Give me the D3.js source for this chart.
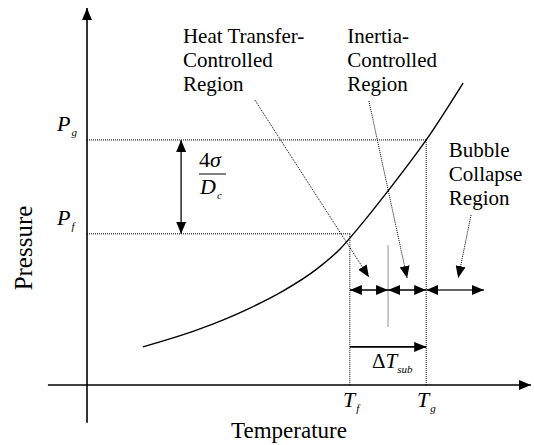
<!DOCTYPE html>
<html>
<head>
<meta charset="utf-8">
<script src="https://cdn.jsdelivr.net/npm/d3@7"></script>
<style>
  body { margin: 0; background: #fff; }
  svg text { font-family: "Liberation Serif", "Times New Roman", serif; }
</style>
</head>
<body>
<svg id="chart" width="534" height="445"></svg>
<script>
// saturation curve (temperature, pressure) in arbitrary units
var curveT = [12.6, 24.8, 36.7, 44.1, 51.8, 57.0, 61.5, 67.8, 76.4, 84.7];
var curveP = [10.1, 14.6, 20.4, 24.9, 30.8, 36.1, 42.2, 51.5, 65.0, 80.1];

// key states
var Tf = 59.2, Tg = 76.4, Tmid = 67.8, Tend = 89.4;
var Pf = 40.1, Pg = 65.0;
var Tdelta = 21.2;       // temperature where the 4sigma/Dc arrow sits
var Prow = 25.2;         // pressure level of the region arrows
var Psub = 10.1;         // pressure level of the delta T sub arrow
var midLine = [37.1, 15.4];

// region labels and their leaders [t0, p0, t1, p1]
var regionNames = ["Heat Transfer-|Controlled|Region", "Inertia-|Controlled|Region", "Bubble|Collapse|Region"];
var regionLabelPos = [[21.6, 90.7], [58.6, 90.7], [81.5, 60.5]];
var regionLeaders = [[37.8, 75.6, 63.5, 28.6], [63.5, 75.3, 72.1, 28.4], [86.5, 45.1, 83.6, 28.4]];

var svg = d3.select("#chart");
var x = d3.scaleLinear().domain([0, 100]).range([87, 531]);
var y = d3.scaleLinear().domain([0, 100]).range([385, 8]);

var defs = svg.append("defs");
defs.append("marker")
    .attr("id", "arr")
    .attr("viewBox", "0 0 12 10")
    .attr("refX", 12).attr("refY", 5)
    .attr("markerWidth", 12).attr("markerHeight", 10)
    .attr("markerUnits", "userSpaceOnUse")
    .attr("orient", "auto-start-reverse")
    .append("path").attr("d", "M0,0 L12,5 L0,10 Z").attr("fill", "#000");

function seg(t0, p0, t1, p1)
{
    return svg.append("line")
        .attr("x1", x(t0)).attr("y1", y(p0))
        .attr("x2", x(t1)).attr("y2", y(p1))
        .attr("stroke", "#000");
}

// axes
seg(-8.8, 0, 100, 0).attr("stroke-width", 1.6).attr("marker-end", "url(#arr)");
seg(0, -10, 0, 100).attr("stroke-width", 1.6).attr("marker-end", "url(#arr)");

// dotted guides
var dot = "1,1";
seg(0, Pg, Tg, Pg).attr("stroke-dasharray", dot).attr("stroke-width", 1);
seg(0, Pf, Tf, Pf).attr("stroke-dasharray", dot).attr("stroke-width", 1);
seg(Tf, Pf, Tf, 0).attr("stroke-dasharray", dot).attr("stroke-width", 1);
seg(Tg, Pg, Tg, 0).attr("stroke-dasharray", dot).attr("stroke-width", 1);
seg(Tmid, midLine[0], Tmid, midLine[1]).attr("stroke-width", 0.7).attr("stroke", "#666");

// curve
var pts = curveT.map(function (t, i) { return [t, curveP[i]]; });
var line = d3.line()
    .x(function (d) { return x(d[0]); })
    .y(function (d) { return y(d[1]); })
    .curve(d3.curveMonotoneX);
svg.append("path").attr("d", line(pts))
    .attr("fill", "none").attr("stroke", "#000").attr("stroke-width", 1.4);

// 4sigma/Dc arrow
seg(Tdelta, Pg, Tdelta, Pf).attr("stroke-width", 1.6).attr("stroke", "#333")
    .attr("marker-start", "url(#arr)").attr("marker-end", "url(#arr)");

// region arrows
seg(Tf, Prow, Tmid, Prow).attr("stroke-width", 1.6).attr("marker-start", "url(#arr)").attr("marker-end", "url(#arr)");
seg(Tmid, Prow, Tg, Prow).attr("stroke-width", 1.6).attr("marker-start", "url(#arr)").attr("marker-end", "url(#arr)");
seg(Tg, Prow, Tend, Prow).attr("stroke-width", 1.6).attr("stroke", "#333").attr("marker-start", "url(#arr)").attr("marker-end", "url(#arr)");
seg(Tf, Psub, Tg, Psub).attr("stroke-width", 1.6).attr("marker-end", "url(#arr)");

// leaders
regionLeaders.forEach(function (l)
{
    seg(l[0], l[1], l[2], l[3]).attr("stroke-dasharray", dot).attr("stroke-width", 1)
        .attr("marker-end", "url(#arr)");
});

// region labels
regionNames.forEach(function (name, i)
{
    var t = svg.append("text")
        .attr("x", x(regionLabelPos[i][0])).attr("y", y(regionLabelPos[i][1]))
        .attr("font-size", 21).attr("fill", "#000");
    name.split("|").forEach(function (s, j)
    {
        t.append("tspan").attr("x", x(regionLabelPos[i][0])).attr("dy", j === 0 ? 0 : 23.8).text(s);
    });
});

// symbol with subscript
function sym(px, py, main, sub, size, subSize)
{
    var t = svg.append("text").attr("x", px).attr("y", py)
        .attr("font-size", size).attr("font-style", "italic");
    t.append("tspan").text(main);
    t.append("tspan").attr("dy", 5).attr("dx", 1).attr("font-size", subSize).text(sub);
    return t;
}

sym(57, 131, "P", "g", 22, 11);
sym(57, 225, "P", "f", 22, 11);
sym(343, 407, "T", "f", 22, 11);
sym(417, 407, "T", "g", 22, 11);

var dt = svg.append("text").attr("x", 372).attr("y", 368).attr("font-size", 21);
dt.append("tspan").text("\u0394");
dt.append("tspan").attr("font-style", "italic").text("T");
dt.append("tspan").attr("dy", 5).attr("font-size", 11).attr("font-style", "italic").text("sub");

// fraction 4 sigma / Dc
var num = svg.append("text").attr("x", 199).attr("y", 167).attr("font-size", 22);
num.append("tspan").text("4");
num.append("tspan").attr("font-style", "italic").text("\u03c3");
svg.append("line").attr("x1", 199).attr("x2", 226).attr("y1", 174).attr("y2", 174)
    .attr("stroke", "#000").attr("stroke-width", 1);
sym(200, 194, "D", "c", 22, 11);

// axis titles
svg.append("text").attr("x", 289).attr("y", 438).attr("text-anchor", "middle")
    .attr("font-size", 23).text("Temperature");
svg.append("text").attr("transform", "translate(32,248) rotate(-90)")
    .attr("text-anchor", "middle").attr("font-size", 25).text("Pressure");
</script>
</body>
</html>
